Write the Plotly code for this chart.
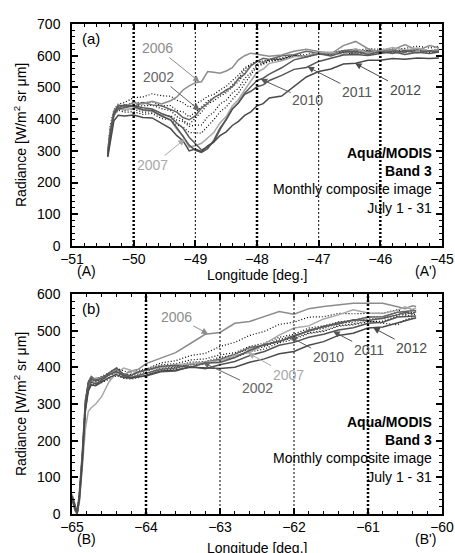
import numpy as np
import plotly.graph_objects as go

# ---- panel (a): longitude grid and radiance per year ----
lon_a = [-50.42, -50.38, -50.32, -50.25, -50.15, -50.0, -49.85, -49.7, -49.55, -49.4,
         -49.3, -49.2, -49.1, -49.0, -48.9, -48.8, -48.7, -48.6, -48.5, -48.4,
         -48.3, -48.2, -48.1, -48.0, -47.9, -47.8, -47.6, -47.4, -47.2, -47.0,
         -46.8, -46.6, -46.4, -46.2, -46.0, -45.8, -45.6, -45.4, -45.2, -45.05]

a_2002 = [290, 360, 420, 435, 445, 440, 452, 445, 442, 430, 422, 405, 398, 410, 435, 450, 468, 478, 492, 502,
          528, 542, 568, 582, 592, 588, 600, 603, 614, 608, 606, 616, 620, 610, 617, 618, 611, 622, 614, 618]
a_2006 = [300, 370, 425, 445, 440, 452, 448, 456, 448, 458, 470, 492, 505, 515, 518, 550, 548, 545, 552, 562,
          587, 600, 608, 605, 600, 598, 602, 614, 620, 612, 606, 632, 645, 622, 610, 618, 635, 616, 632, 625]
a_2007 = [285, 340, 410, 432, 430, 435, 428, 425, 412, 398, 368, 348, 312, 316, 324, 342, 358, 388, 408, 442,
          462, 492, 518, 548, 558, 576, 584, 597, 600, 610, 611, 604, 622, 608, 616, 626, 617, 624, 614, 620]
a_2010 = [290, 355, 415, 432, 436, 442, 436, 432, 418, 407, 388, 372, 343, 322, 303, 312, 328, 367, 398, 432,
          452, 482, 502, 522, 529, 542, 562, 587, 596, 606, 599, 612, 614, 604, 613, 607, 616, 609, 616, 612]
a_2011 = [285, 350, 420, 442, 443, 440, 430, 427, 410, 397, 373, 347, 318, 302, 295, 307, 334, 372, 398, 432,
          452, 478, 488, 502, 508, 522, 538, 557, 563, 582, 593, 602, 604, 601, 607, 613, 604, 611, 607, 612]
a_2012 = [280, 330, 395, 412, 410, 413, 405, 404, 388, 370, 348, 332, 300, 306, 298, 316, 328, 348, 360, 380,
          393, 412, 423, 442, 449, 467, 473, 502, 533, 550, 558, 574, 576, 586, 586, 591, 589, 593, 591, 593]
a_2003 = [300, 380, 430, 448, 452, 468, 470, 480, 474, 472, 460, 452, 438, 447, 458, 472, 478, 492, 503, 522,
          538, 562, 573, 584, 583, 590, 593, 602, 603, 612, 610, 617, 616, 622, 620, 622, 623, 630, 624, 630]
a_2004 = [290, 360, 420, 438, 437, 443, 442, 444, 433, 427, 408, 397, 383, 402, 423, 447, 458, 472, 483, 502,
          518, 547, 568, 582, 580, 587, 590, 600, 600, 607, 606, 612, 610, 617, 610, 617, 616, 622, 616, 622]
a_2005 = [285, 350, 410, 428, 422, 423, 415, 418, 402, 398, 382, 375, 358, 357, 356, 378, 398, 423, 438, 462,
          483, 512, 538, 567, 573, 582, 588, 598, 598, 605, 603, 610, 604, 612, 610, 610, 610, 617, 610, 615]
a_2008 = [295, 370, 425, 443, 442, 453, 452, 455, 442, 443, 427, 423, 407, 423, 437, 458, 467, 481, 487, 508,
          527, 558, 569, 581, 577, 588, 589, 601, 597, 607, 605, 609, 609, 617, 607, 617, 613, 617, 614, 615]
a_2009 = [290, 365, 415, 433, 427, 431, 422, 423, 412, 411, 397, 393, 377, 381, 382, 408, 422, 448, 459, 483,
          497, 528, 547, 573, 575, 586, 587, 598, 595, 605, 603, 613, 605, 615, 611, 614, 612, 621, 613, 619]

# ---- panel (b) ----
lon_b = [-65.0, -64.96, -64.93, -64.9, -64.86, -64.82, -64.78, -64.74, -64.68, -64.6,
         -64.5, -64.4, -64.3, -64.2, -64.1, -64.0, -63.8, -63.6, -63.4, -63.2,
         -63.0, -62.8, -62.6, -62.4, -62.2, -62.0, -61.8, -61.6, -61.4, -61.2,
         -61.0, -60.8, -60.6, -60.5, -60.4, -60.35]

b_2002 = [45, 15, 2, 50, 160, 300, 360, 375, 365, 372, 380, 392, 375, 372, 378, 385, 395, 398, 408, 414,
          422, 436, 454, 460, 472, 483, 502, 510, 522, 528, 537, 538, 550, 553, 554, 555]
b_2006 = [50, 20, 5, 40, 150, 280, 345, 365, 370, 372, 378, 395, 380, 390, 395, 410, 425, 440, 465, 490,
          495, 520, 525, 538, 552, 545, 560, 566, 570, 575, 575, 575, 565, 560, 568, 566]
b_2007 = [55, 25, 5, 30, 120, 230, 280, 290, 300, 320, 360, 385, 398, 392, 385, 393, 400, 408, 410, 415,
          418, 432, 440, 464, 488, 507, 513, 532, 543, 557, 548, 547, 556, 565, 558, 562]
b_2010 = [40, 10, 0, 60, 170, 310, 355, 368, 362, 370, 385, 398, 380, 378, 388, 392, 403, 405, 400, 412,
          413, 427, 446, 462, 470, 487, 498, 512, 518, 530, 528, 534, 543, 550, 546, 552]
b_2011 = [50, 20, 3, 45, 150, 290, 340, 360, 355, 365, 380, 388, 378, 372, 375, 376, 388, 390, 402, 396,
          407, 416, 432, 443, 460, 468, 482, 490, 502, 508, 520, 523, 537, 538, 540, 540]
b_2012 = [48, 18, 2, 40, 140, 280, 335, 352, 350, 360, 372, 380, 372, 370, 374, 378, 390, 393, 400, 398,
          397, 400, 414, 423, 437, 443, 460, 470, 487, 493, 507, 510, 522, 526, 532, 535]
b_2003 = [50, 15, 3, 45, 160, 300, 360, 372, 368, 375, 385, 398, 390, 385, 392, 395, 412, 418, 432, 438,
          457, 468, 487, 498, 517, 523, 537, 538, 547, 546, 547, 548, 557, 550, 558, 555]
b_2004 = [45, 12, 2, 55, 165, 305, 362, 370, 365, 372, 382, 390, 382, 380, 387, 395, 407, 410, 420, 423,
          434, 440, 457, 466, 482, 490, 507, 513, 524, 528, 537, 538, 550, 543, 552, 548]
b_2005 = [48, 18, 3, 42, 150, 290, 345, 360, 355, 362, 372, 382, 375, 372, 378, 385, 397, 400, 410, 413,
          422, 428, 447, 456, 472, 480, 494, 500, 514, 518, 527, 520, 516, 530, 535, 532]
b_2008 = [52, 20, 4, 38, 140, 285, 340, 355, 352, 358, 368, 377, 370, 368, 372, 378, 392, 396, 407, 408,
          420, 426, 442, 450, 467, 476, 492, 498, 512, 516, 524, 526, 540, 540, 542, 545]
b_2009 = [46, 14, 2, 50, 155, 295, 350, 365, 360, 368, 378, 387, 380, 376, 382, 390, 400, 403, 414, 416,
          427, 434, 452, 460, 477, 486, 500, 506, 520, 523, 532, 533, 544, 546, 547, 550]

series_a = {"2003": a_2003, "2004": a_2004, "2005": a_2005, "2008": a_2008, "2009": a_2009,
            "2002": a_2002, "2006": a_2006, "2007": a_2007, "2010": a_2010, "2011": a_2011, "2012": a_2012}
series_b = {"2003": b_2003, "2004": b_2004, "2005": b_2005, "2008": b_2008, "2009": b_2009,
            "2002": b_2002, "2006": b_2006, "2007": b_2007, "2010": b_2010, "2011": b_2011, "2012": b_2012}

styles = {
    "2002": dict(color="#666666", width=1.5, dash="solid"),
    "2006": dict(color="#8c8c8c", width=1.5, dash="solid"),
    "2007": dict(color="#a8a8a8", width=1.5, dash="solid"),
    "2010": dict(color="#5a5a5a", width=1.5, dash="solid"),
    "2011": dict(color="#555555", width=1.5, dash="solid"),
    "2012": dict(color="#4a4a4a", width=1.5, dash="solid"),
}
dotted = dict(color="black", width=1.2, dash="1px,2px")

FONT = "Liberation Sans, Arial, sans-serif"
fig = go.Figure()

for name, vals in series_a.items():
    fig.add_trace(go.Scatter(x=lon_a, y=vals, mode="lines", name=name, line=styles.get(name, dotted),
                             xaxis="x", yaxis="y", showlegend=False))
for name, vals in series_b.items():
    fig.add_trace(go.Scatter(x=lon_b, y=vals, mode="lines", name=name, line=styles.get(name, dotted),
                             xaxis="x2", yaxis="y2", showlegend=False))

# vertical dotted guide lines: (longitude, thick?)
guides_a = [(-50, True), (-49, False), (-48, True), (-47, False), (-46, True)]
guides_b = [(-64, True), (-63, False), (-62, False), (-61, True)]
shapes = []
for xv, thick in guides_a:
    shapes.append(dict(type="line", xref="x", yref="y domain", x0=xv, x1=xv, y0=0, y1=1,
                       line=dict(color="black", width=2.5 if thick else 1, dash="2px,2px")))
for xv, thick in guides_b:
    shapes.append(dict(type="line", xref="x2", yref="y2 domain", x0=xv, x1=xv, y0=0, y1=1,
                       line=dict(color="black", width=2.5 if thick else 1, dash="2px,2px")))

# year labels with arrows: (year, tip longitude, text lon, text radiance)
labels_a = [("2006", -48.93, -49.61, 624), ("2002", -48.93, -49.59, 533), ("2007", -49.17, -49.69, 255),
            ("2010", -47.94, -47.18, 460), ("2011", -47.18, -46.38, 486), ("2012", -46.41, -45.6, 492)]
labels_b = [("2006", -63.16, -63.59, 538), ("2002", -63.23, -62.5, 343), ("2007", -62.62, -62.08, 379),
            ("2010", -62.05, -61.54, 428), ("2011", -61.47, -60.99, 447), ("2012", -60.93, -60.41, 452)]

annotations = []
for labels, lon, series, xr, yr in [(labels_a, lon_a, series_a, "x", "y"), (labels_b, lon_b, series_b, "x2", "y2")]:
    for year, tip, tx, ty in labels:
        col = styles[year]["color"]
        annotations.append(dict(x=tip, y=float(np.interp(tip, lon, series[year])), xref=xr, yref=yr,
                                ax=tx, ay=ty, axref=xr, ayref=yr, text=year, showarrow=True,
                                arrowhead=2, arrowsize=1.3, arrowwidth=1, arrowcolor=col,
                                font=dict(family=FONT, size=14, color=col)))

info = "<b>Aqua/MODIS</b><br><b>Band 3</b><br>Monthly composite image<br>July 1 - 31"
for xr, yr, yy, tag in [("x", "y", 0.297, "(a)"), ("x2", "y2", 0.291, "(b)")]:
    annotations.append(dict(x=1, y=yy, xref=xr + " domain", yref=yr + " domain", xanchor="right", xshift=-8,
                            yanchor="middle", align="right", text=info, showarrow=False,
                            font=dict(family=FONT, size=14, color="black")))
    annotations.append(dict(x=0, y=1, xref=xr + " domain", yref=yr + " domain", xanchor="left", yanchor="top",
                            xshift=8, yshift=-4, text=tag, showarrow=False,
                            font=dict(family=FONT, size=15, color="black")))
    annotations.append(dict(x=0, y=0.5, xref=xr + " domain", yref=yr + " domain", xanchor="center",
                            yanchor="middle", xshift=-52, textangle=-90, showarrow=False,
                            text="Radiance [W/m<sup>2</sup> sr μm]", font=dict(family=FONT, size=14, color="black")))

# x-axis titles and end markers
annotations.append(dict(x=0.5, y=0, xref="x domain", yref="y domain", yanchor="middle", yshift=-29,
                        text="Longitude [deg.]", showarrow=False, font=dict(family=FONT, size=14, color="black")))
annotations.append(dict(x=0.5, y=0, xref="x2 domain", yref="y2 domain", yanchor="middle", yshift=-34,
                        text="Longitude [deg.]", showarrow=False, font=dict(family=FONT, size=14, color="black")))
for xr, yr, left, right, ys in [("x", "y", "(A)", "(A')", -25), ("x2", "y2", "(B)", "(B')", -25)]:
    for xx, t in [(0, left), (1, right)]:
        annotations.append(dict(x=xx, y=0, xref=xr + " domain", yref=yr + " domain", yanchor="middle", yshift=ys,
                                xshift=3 if xx == 0 else -4, text=t, showarrow=False,
                                font=dict(family=FONT, size=14, color="black")))

axis_common = dict(showline=True, linecolor="black", linewidth=1.5, mirror="ticks", ticks="inside",
                   ticklen=6, tickwidth=1.5, tickcolor="black", showgrid=False, zeroline=False,
                   automargin=False, tickfont=dict(family=FONT, size=14, color="black"))

fig.update_layout(
    width=455, height=553, plot_bgcolor="white", paper_bgcolor="white",
    margin=dict(l=72, r=13, t=24, b=39, autoexpand=False), showlegend=False,
    xaxis=dict(domain=[0, 1], anchor="y", range=[-51, -45], dtick=1, ticklabelstandoff=-1,
               minor=dict(dtick=0.2, ticks="inside", ticklen=3, tickcolor="black", tickwidth=1), **axis_common),
    yaxis=dict(domain=[0.5469, 1], anchor="x", range=[0, 700], dtick=100, ticklabelstandoff=7,
               minor=dict(dtick=20, ticks="inside", ticklen=3, tickcolor="black", tickwidth=1), **axis_common),
    xaxis2=dict(domain=[0, 1], anchor="y2", range=[-65, -60], dtick=1, ticklabelstandoff=-1,
                minor=dict(dtick=0.2, ticks="inside", ticklen=3, tickcolor="black", tickwidth=1), **axis_common),
    yaxis2=dict(domain=[0, 0.449], anchor="x2", range=[0, 600], dtick=100, ticklabelstandoff=7,
                minor=dict(dtick=20, ticks="inside", ticklen=3, tickcolor="black", tickwidth=1), **axis_common),
    shapes=shapes, annotations=annotations,
)

# drop the browser's default page margin so the figure fills the window
fig.write_html("out.html", config={"displayModeBar": False},
               post_script="document.body.style.margin='0';document.body.style.overflow='hidden';")
